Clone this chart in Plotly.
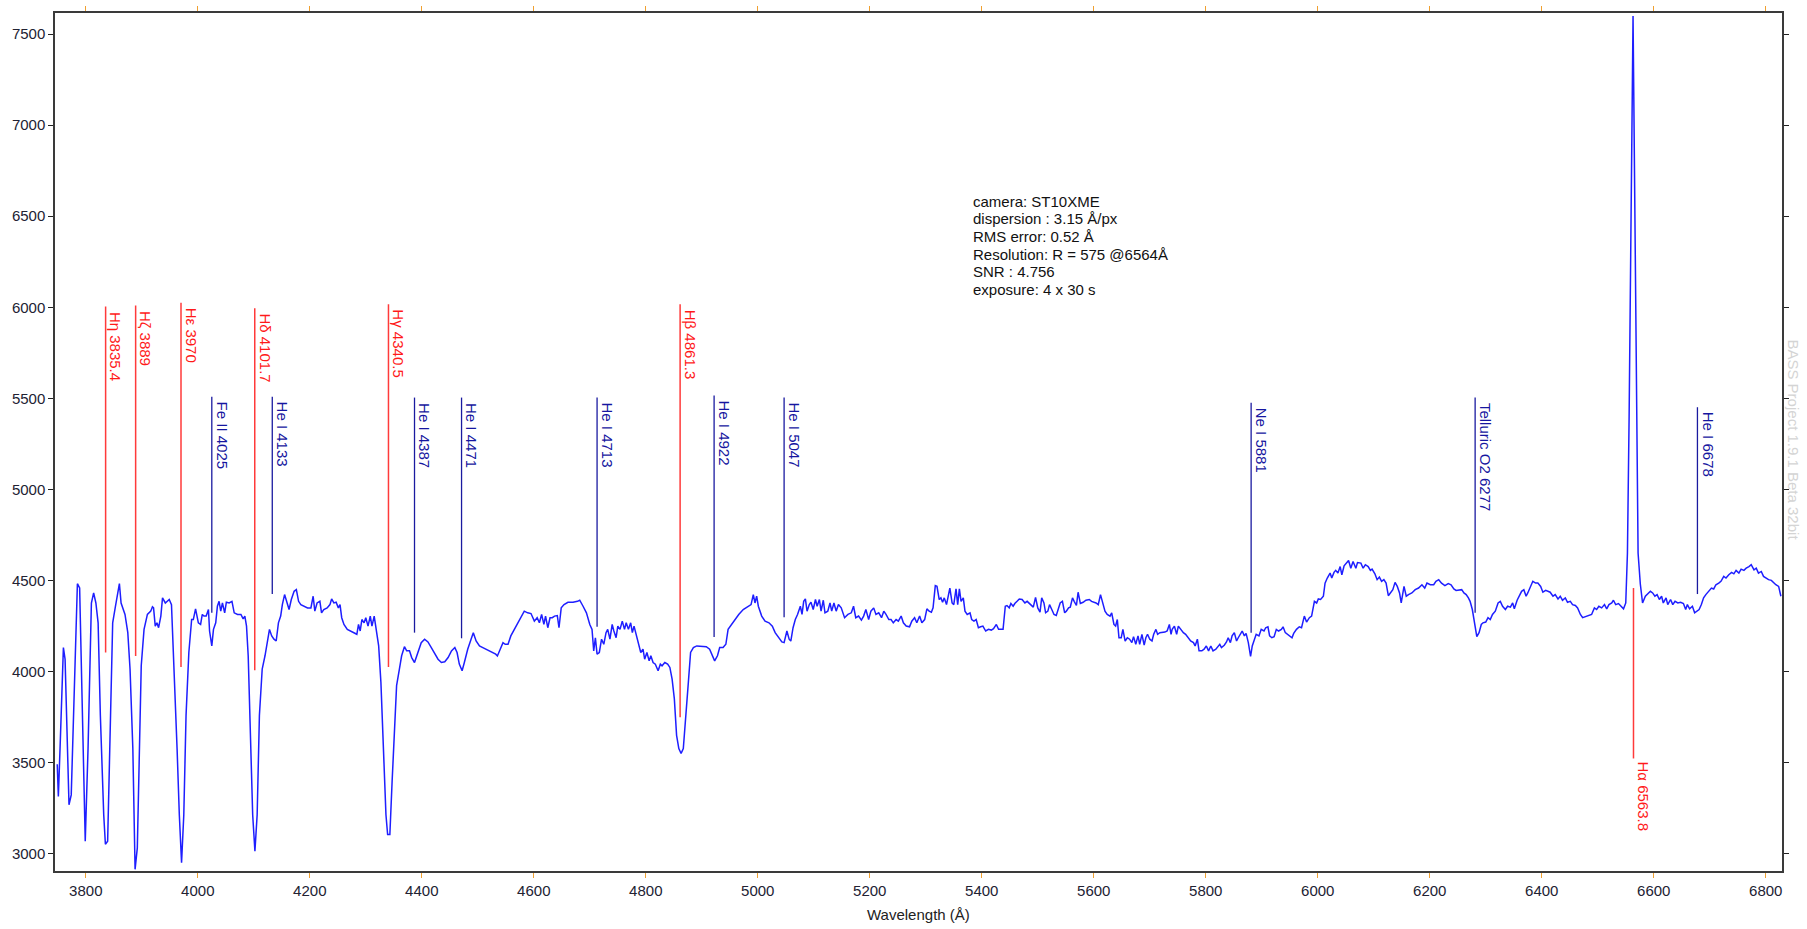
import plotly.graph_objects as go

# ---------------- spectrum (wavelength in Å, flux in ADU) ----------------
wl_blue = [3749, 3751, 3754, 3760, 3763, 3770, 3774, 3778, 3782, 3785, 3789, 3793, 3799, 3804, 3810, 3814,
           3818, 3822, 3826, 3832, 3835, 3839, 3844, 3848, 3853, 3856, 3860, 3863, 3870, 3875, 3879, 3884,
           3888, 3892, 3896, 3899, 3904, 3910, 3916, 3919, 3921, 3924, 3927, 3930, 3934, 3937, 3942, 3946,
           3949, 3953, 3957, 3963, 3967, 3971, 3975, 3979, 3984, 3989, 3992, 3996, 4001, 4005, 4008, 4011,
           4015, 4019, 4021, 4025, 4028, 4032, 4035, 4038, 4041, 4044, 4048, 4051, 4056, 4061, 4065, 4071,
           4077, 4081, 4084, 4087, 4090, 4094, 4098, 4102, 4106, 4110, 4115, 4120, 4124, 4128, 4132, 4136,
           4140, 4144, 4148, 4151, 4155, 4160, 4163, 4167, 4172, 4176, 4180, 4184, 4190, 4196, 4202, 4206,
           4209, 4213, 4218, 4221, 4225, 4231, 4236, 4239, 4243, 4247, 4251, 4254, 4257, 4261, 4267, 4273,
           4279, 4284, 4287, 4290, 4293, 4297, 4300, 4304, 4308, 4311, 4315, 4318, 4323, 4327, 4331, 4336,
           4339, 4343, 4347, 4351, 4355, 4360, 4364, 4369, 4373, 4378, 4382, 4387, 4393, 4399, 4405, 4411,
           4417, 4423, 4429, 4435, 4441, 4447, 4453, 4459, 4463, 4467, 4472, 4476, 4482, 4488, 4492, 4497,
           4503, 4509, 4515, 4521, 4527, 4532]
flux_blue = [3490, 3313, 3576, 4131, 4067, 3268, 3322, 3758, 4267, 4482, 4458, 3940, 3067, 3576, 4376, 4431,
             4376, 4267, 3758, 3213, 3051, 3067, 3758, 4267, 4358, 4413, 4482, 4376, 4313, 4213, 4013, 3576,
             2913, 3031, 3576, 4031, 4231, 4313, 4331, 4355, 4349, 4249, 4267, 4240, 4304, 4404, 4376, 4385,
             4395, 4367, 4086, 3576, 3213, 2949, 3213, 3758, 4104, 4285, 4285, 4344, 4267, 4258, 4313, 4304,
             4304, 4340, 4222, 4140, 4231, 4267, 4358, 4385, 4331, 4376, 4322, 4380, 4376, 4385, 4322, 4313,
             4313, 4289, 4304, 4249, 4086, 3576, 3213, 3013, 3213, 3758, 4013, 4086, 4158, 4231, 4195, 4177,
             4167, 4267, 4304, 4367, 4422, 4376, 4340, 4395, 4440, 4449, 4385, 4367, 4358, 4349, 4349, 4413,
             4331, 4376, 4385, 4322, 4340, 4349, 4367, 4398, 4376, 4380, 4349, 4367, 4295, 4258, 4231, 4222,
             4213, 4204, 4258, 4222, 4285, 4267, 4295, 4249, 4304, 4249, 4304, 4231, 4140, 3940, 3576, 3213,
             3104, 3104, 3395, 3667, 3922, 4013, 4086, 4136, 4113, 4113, 4076, 4049, 4104, 4158, 4177, 4162,
             4131, 4095, 4067, 4049, 4053, 4076, 4113, 4131, 4104, 4040, 4004, 4049, 4122, 4177, 4213, 4167,
             4140, 4131, 4122, 4113, 4107, 4095]

wl_green = [4535, 4539, 4545, 4549, 4554, 4559, 4565, 4571, 4577, 4583, 4589, 4595, 4601, 4606, 4610, 4614,
            4618, 4621, 4625, 4629, 4633, 4637, 4642, 4645, 4649, 4654, 4661, 4670, 4678, 4682, 4688, 4694,
            4700, 4704, 4707, 4710, 4713, 4717, 4721, 4725, 4729, 4732, 4736, 4740, 4743, 4747, 4750, 4754,
            4758, 4762, 4765, 4769, 4773, 4776, 4779, 4783, 4787, 4791, 4795, 4798, 4802, 4806, 4809, 4813,
            4817, 4822, 4826, 4829, 4834, 4839, 4843, 4847, 4851, 4855, 4859, 4863, 4867, 4871, 4876, 4880,
            4885, 4891, 4900, 4908, 4914, 4919, 4923, 4928, 4932, 4938, 4943, 4947, 4953, 4959, 4966, 4974,
            4982, 4988, 4992, 4995, 4998, 5001, 5007, 5013, 5020, 5026, 5031, 5037, 5043, 5047, 5052, 5056,
            5059, 5063, 5067, 5071, 5076, 5079, 5082, 5085, 5088, 5092, 5095, 5099, 5103, 5106, 5110, 5113,
            5117, 5120, 5125, 5129, 5132, 5136, 5140, 5144, 5149, 5155, 5161, 5167, 5171, 5175, 5180, 5185,
            5189, 5193, 5198, 5202, 5207, 5211, 5216, 5221, 5225, 5229, 5234, 5238, 5242, 5247, 5251, 5256,
            5260, 5265, 5271, 5275, 5280, 5284, 5289, 5293, 5298, 5302, 5306, 5310]
flux_green = [4085, 4113, 4158, 4149, 4149, 4195, 4231, 4267, 4295, 4331, 4322, 4318, 4276, 4295, 4267, 4313,
              4258, 4304, 4240, 4295, 4295, 4304, 4307, 4240, 4349, 4367, 4380, 4380, 4385, 4391, 4358, 4322,
              4258, 4231, 4113, 4185, 4095, 4104, 4177, 4149, 4213, 4231, 4177, 4258, 4222, 4185, 4249, 4231,
              4276, 4231, 4267, 4231, 4267, 4213, 4249, 4195, 4158, 4104, 4122, 4067, 4104, 4058, 4086, 4049,
              4040, 4004, 4040, 4031, 4049, 4040, 4022, 3958, 3849, 3649, 3576, 3549, 3576, 3722, 3940, 4104,
              4131, 4140, 4140, 4136, 4122, 4086, 4058, 4086, 4131, 4131, 4149, 4231, 4258, 4285, 4313, 4340,
              4358, 4367, 4422, 4376, 4413, 4358, 4304, 4276, 4267, 4249, 4213, 4185, 4162, 4158, 4222, 4177,
              4167, 4240, 4285, 4313, 4358, 4313, 4385, 4398, 4331, 4367, 4380, 4340, 4395, 4358, 4395, 4331,
              4391, 4322, 4331, 4376, 4331, 4376, 4331, 4367, 4349, 4295, 4313, 4322, 4358, 4295, 4304, 4282,
              4304, 4340, 4285, 4331, 4349, 4313, 4322, 4295, 4331, 4313, 4285, 4285, 4267, 4285, 4276, 4304,
              4267, 4249, 4245, 4276, 4295, 4267, 4304, 4267, 4285, 4344, 4331, 4325]

wl_yellow = [5313, 5317, 5320, 5324, 5327, 5330, 5333, 5337, 5340, 5343, 5347, 5350, 5354, 5357, 5360, 5363,
             5367, 5370, 5374, 5379, 5382, 5386, 5390, 5394, 5398, 5402, 5407, 5412, 5417, 5421, 5426, 5430,
             5434, 5438, 5442, 5445, 5449, 5452, 5456, 5459, 5463, 5467, 5472, 5477, 5481, 5487, 5492, 5496,
             5500, 5504, 5507, 5511, 5514, 5518, 5521, 5525, 5529, 5533, 5537, 5540, 5544, 5548, 5551, 5555,
             5558, 5562, 5565, 5569, 5572, 5576, 5581, 5586, 5592, 5596, 5604, 5608, 5612, 5617, 5620, 5624,
             5629, 5632, 5636, 5639, 5642, 5645, 5649, 5652, 5656, 5660, 5664, 5668, 5671, 5675, 5679, 5682,
             5686, 5690, 5693, 5696, 5700, 5704, 5707, 5711, 5714, 5718, 5723, 5727, 5731, 5735, 5738, 5740,
             5744, 5748, 5751, 5755, 5760, 5764, 5769, 5773, 5778, 5781, 5785, 5788, 5793, 5797, 5801, 5805,
             5809, 5813, 5818, 5821, 5825, 5828, 5833, 5837, 5840, 5844, 5847, 5851, 5855, 5858, 5862, 5865,
             5869, 5872, 5876, 5880, 5883, 5887, 5890, 5895, 5899, 5904, 5907, 5911, 5914, 5918, 5922, 5926,
             5930, 5935, 5938, 5942, 5946, 5950, 5954, 5957, 5962, 5967, 5971, 5976, 5980, 5985, 5989, 5994,
             5998, 6001, 6005, 6010, 6013, 6017, 6022, 6025, 6029, 6032, 6036, 6040, 6043, 6047, 6051, 6055,
             6059, 6063, 6068, 6071, 6077, 6081, 6085]
flux_yellow = [4349, 4471, 4467, 4395, 4404, 4380, 4404, 4367, 4413, 4458, 4376, 4367, 4453, 4367, 4453, 4385,
               4404, 4331, 4313, 4322, 4285, 4276, 4285, 4240, 4245, 4249, 4222, 4231, 4227, 4235, 4258, 4231,
               4231, 4231, 4358, 4362, 4349, 4373, 4358, 4373, 4385, 4398, 4395, 4376, 4385, 4367, 4353, 4407,
               4349, 4325, 4404, 4376, 4322, 4331, 4367, 4340, 4313, 4307, 4340, 4376, 4385, 4322, 4331, 4349,
               4353, 4404, 4385, 4362, 4435, 4373, 4380, 4391, 4395, 4385, 4376, 4367, 4422, 4367, 4331, 4313,
               4304, 4322, 4258, 4249, 4285, 4185, 4185, 4231, 4167, 4185, 4177, 4158, 4191, 4149, 4195, 4149,
               4204, 4144, 4185, 4204, 4177, 4167, 4204, 4231, 4204, 4213, 4213, 4216, 4222, 4258, 4204, 4231,
               4249, 4204, 4249, 4231, 4213, 4204, 4185, 4167, 4158, 4140, 4177, 4113, 4113, 4122, 4140, 4113,
               4140, 4113, 4122, 4136, 4149, 4131, 4144, 4162, 4185, 4158, 4195, 4213, 4167, 4185, 4204, 4222,
               4195, 4209, 4158, 4082, 4140, 4185, 4204, 4195, 4231, 4222, 4240, 4245, 4195, 4185, 4191, 4231,
               4222, 4231, 4245, 4213, 4204, 4191, 4185, 4209, 4231, 4245, 4240, 4304, 4271, 4295, 4304, 4385,
               4376, 4398, 4395, 4413, 4485, 4513, 4540, 4513, 4544, 4555, 4540, 4576, 4531, 4580, 4598, 4609,
               4567, 4604, 4567, 4598, 4595, 4567, 4586]

wl_red = [6090, 6094, 6097, 6102, 6106, 6110, 6114, 6118, 6122, 6126, 6130, 6134, 6138, 6142, 6146, 6149,
          6154, 6158, 6162, 6168, 6174, 6180, 6186, 6191, 6195, 6201, 6207, 6211, 6216, 6221, 6227, 6233,
          6238, 6243, 6247, 6252, 6257, 6261, 6265, 6269, 6272, 6276, 6280, 6284, 6288, 6292, 6295, 6300,
          6304, 6308, 6312, 6317, 6322, 6326, 6330, 6335, 6339, 6344, 6348, 6351, 6356, 6360, 6364, 6368,
          6372, 6375, 6380, 6384, 6389, 6393, 6398, 6402, 6407, 6411, 6415, 6420, 6424, 6429, 6433, 6437,
          6442, 6446, 6451, 6455, 6460, 6464, 6469, 6473, 6477, 6483, 6489, 6494, 6498, 6502, 6507, 6512,
          6516, 6520, 6525, 6528, 6532, 6537, 6542, 6546, 6550, 6553, 6556, 6559, 6563, 6567, 6570, 6572,
          6576, 6580, 6585, 6590, 6594, 6598, 6602, 6606, 6610, 6614, 6617, 6622, 6625, 6630, 6634, 6638,
          6643, 6648, 6653, 6657, 6660, 6664, 6669, 6673, 6677, 6681, 6685, 6689, 6693, 6698, 6703, 6707,
          6711, 6716, 6720, 6725, 6729, 6734, 6739, 6743, 6747, 6752, 6756, 6761, 6765, 6770, 6774, 6779,
          6783, 6787, 6792, 6796, 6800, 6805, 6810, 6814, 6818, 6823, 6827]
flux_red = [4576, 4555, 4562, 4536, 4504, 4518, 4495, 4504, 4485, 4416, 4431, 4449, 4489, 4467, 4431, 4376,
            4467, 4413, 4422, 4431, 4449, 4458, 4476, 4458, 4485, 4476, 4476, 4495, 4504, 4485, 4471, 4482,
            4476, 4453, 4445, 4445, 4449, 4431, 4422, 4404, 4385, 4340, 4267, 4191, 4213, 4258, 4267, 4271,
            4295, 4285, 4313, 4331, 4376, 4385, 4358, 4340, 4358, 4353, 4376, 4344, 4391, 4413, 4440, 4449,
            4413, 4431, 4467, 4495, 4485, 4485, 4467, 4435, 4445, 4440, 4435, 4413, 4422, 4398, 4413, 4391,
            4404, 4380, 4385, 4367, 4362, 4349, 4313, 4295, 4300, 4304, 4313, 4349, 4340, 4358, 4349, 4367,
            4344, 4367, 4376, 4391, 4367, 4373, 4358, 4344, 4376, 4650, 5400, 6300, 7600, 6290, 5000, 4650,
            4480, 4376, 4413, 4431, 4440, 4431, 4413, 4422, 4395, 4413, 4376, 4404, 4367, 4395, 4367, 4385,
            4376, 4380, 4373, 4340, 4367, 4344, 4358, 4322, 4331, 4340, 4367, 4404, 4422, 4440, 4458, 4453,
            4476, 4485, 4495, 4522, 4513, 4531, 4544, 4536, 4555, 4540, 4562, 4555, 4567, 4576, 4586, 4558,
            4567, 4540, 4549, 4522, 4513, 4504, 4500, 4485, 4476, 4467, 4413]

# ---------------- identified lines ----------------
h_labels = ["Hη 3835.4", "Hζ 3889", "Hε 3970", "Hδ 4101.7", "Hγ 4340.5", "Hβ 4861.3", "Hα 6563.8"]
h_wl = [3835.4, 3889, 3970, 4101.7, 4340.5, 4861.3, 6563.8]
h_top = [6004, 6009, 6025, 5995, 6016, 6016, 4458]
h_bottom = [4104, 4085, 4025, 4007, 4025, 3749, 3522]

m_labels = ["Fe II 4025", "He I 4133", "He I 4387", "He I 4471", "He I 4713", "He I 4922", "He I 5047",
            "Ne I 5881", "Telluric O2 6277", "He I 6678"]
m_wl = [4025, 4133, 4387, 4471, 4713, 4922, 5047, 5881, 6281, 6678]
m_top = [5508, 5508, 5504, 5504, 5504, 5515, 5504, 5475, 5504, 5451]
m_bottom = [4322, 4425, 4213, 4182, 4245, 4189, 4298, 4213, 4322, 4425]

info_lines = ["camera: ST10XME", "dispersion : 3.15 Å/px", "RMS error: 0.52 Å",
              "Resolution: R = 575 @6564Å", "SNR : 4.756", "exposure: 4 x 30 s"]
watermark = "BASS Project 1.9.1 Beta 32bit"

FONT = "Liberation Sans, Arial, sans-serif"
RED = "#ff3a3a"
NAVY = "#1a1aa0"

wl = wl_blue + wl_green + wl_yellow + wl_red
flux = flux_blue + flux_green + flux_yellow + flux_red

fig = go.Figure()


def seg(xs, y0s, y1s):
    X, Y = [], []
    for x, a, b in zip(xs, y0s, y1s):
        X += [x, x, None]
        Y += [a, b, None]
    return X, Y


hx, hy = seg(h_wl, h_top, h_bottom)
mx, my = seg(m_wl, m_top, m_bottom)
fig.add_trace(go.Scatter(x=hx, y=hy, mode="lines", line=dict(color=RED, width=1.5),
                         hoverinfo="skip", showlegend=False))
fig.add_trace(go.Scatter(x=mx, y=my, mode="lines", line=dict(color=NAVY, width=1.3),
                         hoverinfo="skip", showlegend=False))
fig.add_trace(go.Scatter(x=wl, y=flux, mode="lines", line=dict(color="#1e1eff", width=1.5),
                         showlegend=False))

annotations = []
for lab, x, t, b in zip(h_labels, h_wl, h_top, h_bottom):
    below = t < 5000
    annotations.append(dict(x=x, y=b if below else t, xref="x", yref="y", text=lab, showarrow=False,
                            textangle=90, xanchor="left", yanchor="top", xshift=0,
                            yshift=-1 if below else -3,
                            font=dict(family=FONT, size=15, color="#ff1a1a")))
for lab, x, t in zip(m_labels, m_wl, m_top):
    annotations.append(dict(x=x, y=t, xref="x", yref="y", text=lab, showarrow=False,
                            textangle=90, xanchor="left", yanchor="top", xshift=0, yshift=-3,
                            font=dict(family=FONT, size=15, color="#1616a0")))
for i, line in enumerate(info_lines):
    annotations.append(dict(x=5381, y=6640, xref="x", yref="y", text=line,
                            showarrow=False, xanchor="left", yanchor="top", align="left",
                            yshift=-17.6 * i,
                            font=dict(family=FONT, size=15, color="#111111")))
annotations.append(dict(x=1, y=0.503, xref="paper", yref="paper", text=watermark, showarrow=False,
                        textangle=90, xanchor="center", yanchor="middle", xshift=12,
                        font=dict(family=FONT, size=15, color="#d4d4d4")))
annotations.append(dict(x=0.5, y=0, xref="paper", yref="paper", text="Wavelength (Å)", showarrow=False,
                        xanchor="center", yanchor="top", yshift=-33,
                        font=dict(family=FONT, size=15, color="#222222")))

fig.update_layout(
    width=1807, height=929,
    margin=dict(l=55, r=25, t=6, b=58),
    paper_bgcolor="white", plot_bgcolor="white",
    annotations=annotations,
    font=dict(family=FONT, size=15, color="#222222"),
    xaxis=dict(range=[3745, 6829], dtick=200, tick0=3800, showgrid=False, zeroline=False,
               ticks="outside", ticklen=5, tickwidth=1, tickcolor="#f0a030",
               showline=True, linecolor="#3a3a3a", linewidth=1.5, mirror="ticks",
               tickfont=dict(family=FONT, size=15, color="#222233")),
    yaxis=dict(range=[2904, 7616], dtick=500, tick0=3000, showgrid=False, zeroline=False,
               ticks="outside", ticklen=5, tickwidth=1, tickcolor="#222222",
               showline=True, linecolor="#3a3a3a", linewidth=1.5, mirror="ticks",
               tickfont=dict(family=FONT, size=15, color="#222233")),
)

fig.write_html("out.html", config={"displayModeBar": False},
               post_script="document.body.style.margin='0';document.body.style.overflow='hidden';")
